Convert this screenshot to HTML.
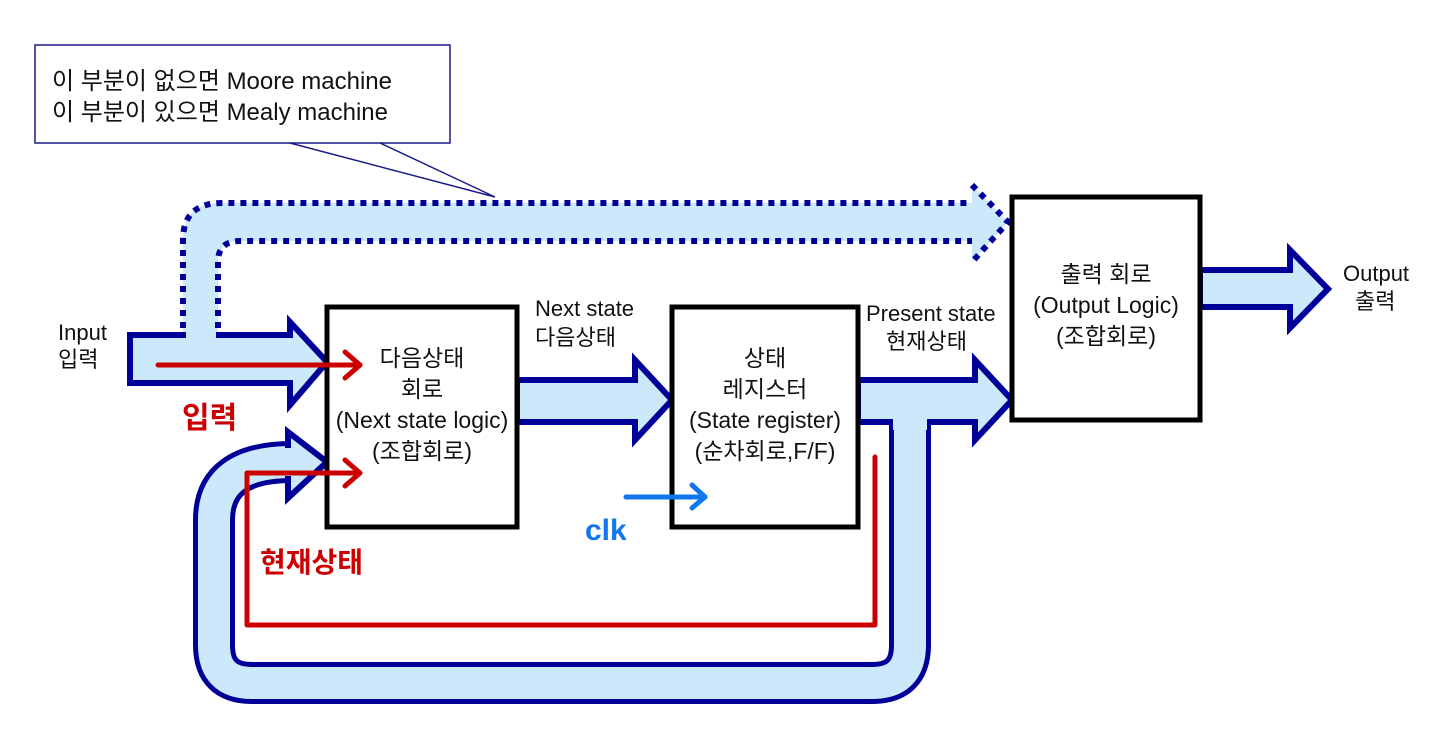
<!DOCTYPE html>
<html><head><meta charset="utf-8"><style>
html,body{margin:0;padding:0;background:#fff;}
svg text{font-family:"Liberation Sans","Noto Sans CJK KR",sans-serif;}
</style></head><body>
<svg width="1440" height="737" viewBox="0 0 1440 737" xmlns="http://www.w3.org/2000/svg">
<!-- callout -->
<rect x="35" y="45" width="415" height="98" fill="#fff" stroke="#1a1a8a" stroke-width="1.5"/>
<polyline points="290,143 495,197 380,143" fill="none" stroke="#1a1a8a" stroke-width="1.5"/>
<text x="52" y="89" font-size="24" fill="#111">이 부분이 없으면 Moore machine</text>
<text x="52" y="120" font-size="24" fill="#111">이 부분이 있으면 Mealy machine</text>

<!-- dashed path -->
<path d="M183,340 L183,240 Q183,203 222,203 L975,203 L975,241 L240,241 Q218,241 218,262 L218,340 Z" fill="#cce8fb"/>
<path d="M183,340 L183,240 Q183,203 222,203 L972,203" fill="none" stroke="#000099" stroke-width="6" stroke-dasharray="6,6"/>
<path d="M218,340 L218,262 Q218,241 240,241 L972,241" fill="none" stroke="#000099" stroke-width="6" stroke-dasharray="6,6"/>
<polygon points="972,185 1008,222 972,262" fill="#cce8fb"/>
<polyline points="972,185 1008,222 972,262" fill="none" stroke="#000099" stroke-width="6" stroke-dasharray="6,6"/>

<!-- input arrow -->
<polygon points="130,335 290,335 290,322 327,362 290,405 290,383 130,383" fill="#cce8fb" stroke="#000099" stroke-width="6" stroke-linejoin="miter"/>
<rect x="186" y="329" width="30" height="10" fill="#cce8fb"/>

<!-- feedback loop -->
<path d="M910,418 L910,645 Q910,683 872,683 L252,683 Q214,683 214,645 L214,520 Q214,462 292,462" fill="none" stroke="#000099" stroke-width="42"/>
<path d="M910,418 L910,645 Q910,683 872,683 L252,683 Q214,683 214,645 L214,520 Q214,462 292,462" fill="none" stroke="#cce8fb" stroke-width="32"/>
<polygon points="288,432 327,462 288,498" fill="#cce8fb" stroke="#000099" stroke-width="6" stroke-linejoin="miter"/>
<rect x="280" y="448" width="12" height="28" fill="#cce8fb"/>

<!-- next state arrow -->
<polygon points="517,380 635,380 635,360 672,400 635,440 635,422 517,422" fill="#cce8fb" stroke="#000099" stroke-width="6"/>

<!-- present state arrow -->
<polygon points="858,380 975,380 975,360 1012,400 975,440 975,422 858,422" fill="#cce8fb" stroke="#000099" stroke-width="6"/>
<rect x="893" y="416" width="34" height="14" fill="#cce8fb"/>

<!-- output arrow -->
<polygon points="1200,270 1290,270 1290,250 1328,289 1290,328 1290,307 1200,307" fill="#cce8fb" stroke="#000099" stroke-width="6"/>

<!-- boxes -->
<rect x="327" y="307" width="190" height="220" fill="#fff" stroke="#000" stroke-width="5"/>
<rect x="672" y="307" width="186" height="220" fill="#fff" stroke="#000" stroke-width="5"/>
<rect x="1012" y="197" width="188" height="223" fill="#fff" stroke="#000" stroke-width="5"/>

<g font-size="23" fill="#111" text-anchor="middle">
<text x="422" y="366">다음상태</text>
<text x="422" y="397">회로</text>
<text x="422" y="428">(Next state logic)</text>
<text x="422" y="459">(조합회로)</text>
<text x="765" y="366">상태</text>
<text x="765" y="397">레지스터</text>
<text x="765" y="428">(State register)</text>
<text x="765" y="459">(순차회로,F/F)</text>
<text x="1106" y="282">출력 회로</text>
<text x="1106" y="313">(Output Logic)</text>
<text x="1106" y="344">(조합회로)</text>
</g>
<g font-size="22" fill="#111">
<text x="58" y="340">Input</text>
<text x="58" y="367">입력</text>
<text x="535" y="316">Next state</text>
<text x="535" y="345">다음상태</text>
<text x="866" y="321">Present state</text>
<text x="886" y="349">현재상태</text>
<text x="1343" y="281">Output</text>
<text x="1355" y="309">출력</text>
</g>

<!-- red annotations -->
<g stroke="#cc0000" stroke-width="5" fill="none" stroke-linecap="round" stroke-linejoin="round">
<line x1="158" y1="365" x2="360" y2="365"/>
<polyline points="345,352 360,365 345,378"/>
<polyline points="875,457 875,625 247,625 247,473 360,473"/>
<polyline points="345,460 360,473 345,486"/>
</g>
<text x="182" y="428" font-size="30" font-weight="bold" fill="#cc0000">입력</text>
<text x="260" y="572" font-size="28" font-weight="bold" fill="#cc0000">현재상태</text>

<!-- clk -->
<g stroke="#1177ee" stroke-width="5" fill="none" stroke-linecap="round" stroke-linejoin="round">
<line x1="626" y1="497" x2="705" y2="497"/>
<polyline points="692,485 705,497 692,508"/>
</g>
<text x="585" y="540" font-size="30" font-weight="bold" fill="#1177ee">clk</text>
</svg>
</body></html>
